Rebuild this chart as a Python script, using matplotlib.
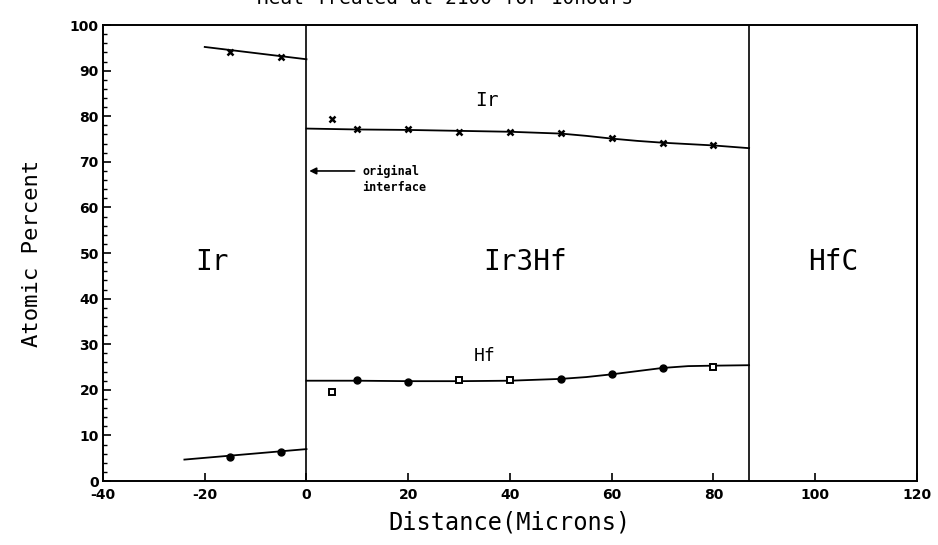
import matplotlib
matplotlib.use("Agg")
import matplotlib.pyplot as plt
from matplotlib.ticker import MultipleLocator

plt.rcParams['axes.unicode_minus'] = False

# ---- data ----
ir_left_x = [-15, -5]
ir_left_y = [94.0, 93.1]
ir_left_line_x = [-20, 0]
ir_left_line_y = [95.2, 92.5]

hf_left_x = [-15, -5]
hf_left_y = [5.2, 6.3]
hf_left_line_x = [-24, 0]
hf_left_line_y = [4.7, 7.0]

ir_x = [5, 10, 20, 30, 40, 50, 60, 70, 80]
ir_y = [79.5, 77.1, 77.1, 76.5, 76.5, 76.4, 75.2, 74.2, 73.6]
ir_curve_x = [0, 10, 20, 30, 40, 50, 55, 60, 65, 70, 75, 80, 87]
ir_curve_y = [77.3, 77.1, 77.0, 76.8, 76.6, 76.2, 75.7, 75.1, 74.6, 74.2, 73.9, 73.6, 73.0]

hf_filled_x = [10, 20, 50, 60, 70]
hf_filled_y = [22.1, 21.8, 22.3, 23.4, 24.8]
hf_open_x = [5, 30, 40, 80]
hf_open_y = [19.6, 22.1, 22.1, 25.0]
hf_curve_x = [0, 10, 20, 30, 40, 50, 55, 60, 65, 70, 75, 80, 87]
hf_curve_y = [22.0, 22.0, 21.9, 21.9, 22.0, 22.4, 22.8, 23.4, 24.1, 24.8, 25.2, 25.3, 25.4]

boundaries = [0, 87]
region_labels = ["Ir", "Ir3Hf", "HfC"]
region_x = [-18.5, 43, 103.5]
region_y = [48, 48, 48]

x_ticks = [-40, -20, 0, 20, 40, 60, 80, 100, 120]
y_ticks = [0, 10, 20, 30, 40, 50, 60, 70, 80, 90, 100]

title = "Heat Treated at 2100 for 10hours"

MONO = "DejaVu Sans Mono"

fig = plt.figure(figsize=(9.38, 5.45), dpi=100)
ax = fig.add_axes([0.1098, 0.1174, 0.8678, 0.8366])

ax.set_xlim(-40, 120)
ax.set_ylim(0, 100)
ax.set_xticks(x_ticks)
ax.set_yticks(y_ticks)
ax.yaxis.set_minor_locator(MultipleLocator(2))
ax.tick_params(axis='both', which='major', direction='in', length=6, width=1.2,
               labelsize=10, top=False, right=False)
ax.tick_params(axis='x', which='major', pad=5)
ax.tick_params(axis='y', which='major', pad=3)
ax.tick_params(axis='y', which='minor', direction='in', length=3, width=1.0, right=False)
for lbl in ax.get_xticklabels() + ax.get_yticklabels():
    lbl.set_fontweight('bold')
for s in ax.spines.values():
    s.set_linewidth(1.4)

for b in boundaries:
    ax.axvline(b, color='black', lw=1.2)

lw = 1.3
ax.plot(ir_left_line_x, ir_left_line_y, color='black', lw=lw)
ax.plot(hf_left_line_x, hf_left_line_y, color='black', lw=lw)
ax.plot(ir_curve_x, ir_curve_y, color='black', lw=lw)
ax.plot(hf_curve_x, hf_curve_y, color='black', lw=lw)

ax.plot(ir_left_x, ir_left_y, 'x', color='black', ms=4, mew=1.8)
ax.plot(ir_x, ir_y, 'x', color='black', ms=4, mew=1.8)
ax.plot(hf_left_x, hf_left_y, 'o', color='black', ms=5)
ax.plot(hf_filled_x, hf_filled_y, 'o', color='black', ms=5)
ax.plot(hf_open_x, hf_open_y, 's', mfc='white', mec='black', ms=4, mew=1.4)

for t, x, y in zip(region_labels, region_x, region_y):
    ax.text(x, y, t, fontsize=20, family=MONO, ha='center', va='center')

ax.text(35.5, 83.5, "Ir", fontsize=14, family=MONO, ha='center', va='center')
ax.text(35, 27.5, "Hf", fontsize=13, family=MONO, ha='center', va='center')

ax.annotate("", xy=(0, 68), xytext=(10, 68),
            arrowprops=dict(arrowstyle='-|>', color='black', lw=1.2, mutation_scale=10))
ax.text(11, 68, "original", fontsize=8.5, family=MONO, fontweight='bold', ha='left', va='center')
ax.text(11, 64.3, "interface", fontsize=8.5, family=MONO, fontweight='bold', ha='left', va='center')

ax.set_xlabel("Distance(Microns)", fontsize=17, family=MONO, labelpad=6)
ax.set_ylabel("Atomic Percent", fontsize=16, family=MONO, labelpad=20)

fig.text(0.474, 1.003, title, fontsize=14, family=MONO, ha='center', va='center')

fig.savefig("out.png", dpi=100)
